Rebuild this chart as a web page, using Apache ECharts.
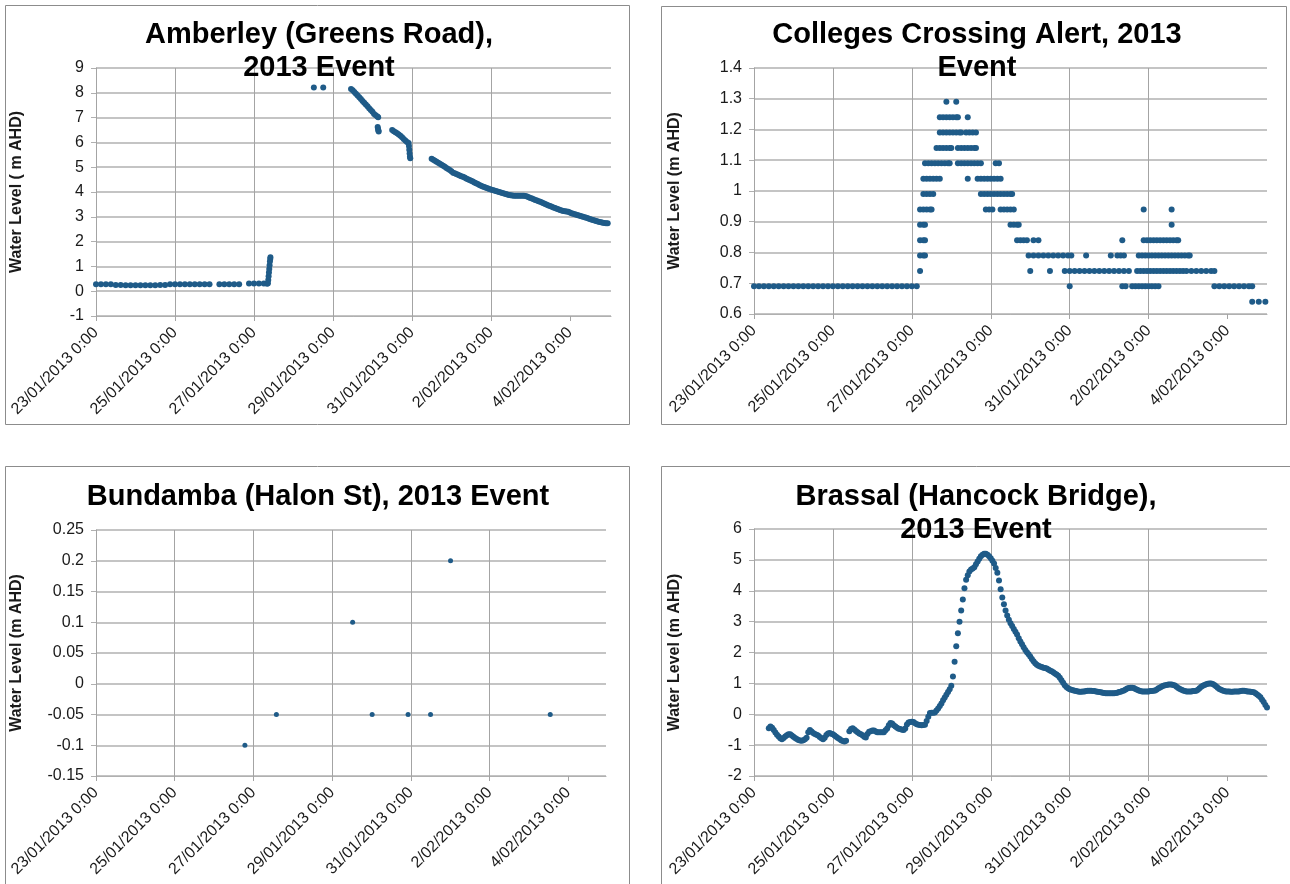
<!DOCTYPE html>
<html>
<head>
<meta charset="utf-8">
<title>Water Levels, 2013 Event</title>
<script src="https://cdn.jsdelivr.net/npm/echarts@6/dist/echarts.min.js"></script>
<style>
  html, body { margin: 0; padding: 0; background: #ffffff; }
  #chart { width: 1290px; height: 884px; }
</style>
</head>
<body>
<div id="chart"></div>
<script>
// Time is in hours after 23/01/2013 0:00; levels are in m AHD.
const xTickHours = [0, 48, 96, 144, 192, 240, 288];
const xTickLabels = ['23/01/2013 0:00', '25/01/2013 0:00', '27/01/2013 0:00', '29/01/2013 0:00',
  '31/01/2013 0:00', '2/02/2013 0:00', '4/02/2013 0:00'];

// Amberley (Greens Road)
const amberleyEarly = [[0,0.28],[3,0.28],[6,0.28],[9,0.28],[12,0.25],[15,0.25],[18,0.24],[21,0.24],
  [24,0.24],[27,0.24],[30,0.24],[33,0.24],[36,0.24],[39,0.25],[42,0.25],[45,0.28],[48,0.28],[51,0.28],
  [54,0.28],[57,0.28],[60,0.28],[63,0.28],[66,0.28],[69,0.28],[75,0.28],[78,0.28],[81,0.28],[84,0.28],
  [87,0.28],[93,0.31],[96,0.31],[99,0.31],[102,0.31],[104,0.30]];
const amberleyRise = [[104.5,0.32],[104.7,0.45],[104.9,0.6],[105.1,0.75],[105.3,0.9],[105.5,1.05],
  [105.7,1.2],[105.9,1.3],[106,1.37]];
const amberleyPeak = [[132.4,8.21],[138.1,8.21]];
const amberleyRecessionA = [[155,8.15],[156,8.1],[157,8.03],[158,7.96],[159,7.89],[160,7.82],[161,7.75],
  [162,7.67],[163,7.6],[164,7.53],[165,7.46],[166,7.38],[167,7.31],[168,7.24],[169,7.15],[170,7.09],
  [171,7.04],[171.5,7.01],[171.2,6.62],[171.4,6.55],[171.6,6.48],[171.8,6.44]];
const amberleyRecessionB = [[180,6.5],[181,6.45],[182,6.41],[183,6.37],[184,6.32],[185,6.27],[186,6.21],
  [187,6.14],[188,6.08],[189,6.02],[190,5.98],[190.2,5.85],[190.4,5.7],[190.6,5.55],[190.8,5.42],[191,5.36]];
const amberleyHourlyStart = 204;
const amberleyHourlyLevels = [
  5.34,5.30,5.26,5.22,5.18,5.14,5.10,5.06,5.02,4.97,
  4.93,4.89,4.84,4.78,4.76,4.73,4.70,4.67,4.64,4.61,
  4.58,4.54,4.51,4.48,4.45,4.42,4.38,4.35,4.32,4.28,
  4.25,4.22,4.20,4.17,4.15,4.12,4.10,4.08,4.06,4.04,
  4.02,4.00,3.98,3.96,3.94,3.92,3.90,3.88,3.87,3.86,
  3.85,3.85,3.85,3.85,3.85,3.85,3.85,3.84,3.82,3.79,
  3.76,3.74,3.71,3.68,3.66,3.63,3.61,3.58,3.55,3.52,
  3.49,3.46,3.44,3.41,3.38,3.35,3.32,3.30,3.27,3.25,
  3.23,3.22,3.21,3.20,3.17,3.14,3.12,3.10,3.08,3.06,
  3.04,3.02,3.00,2.98,2.96,2.94,2.91,2.89,2.87,2.85,
  2.83,2.81,2.79,2.78,2.76,2.75,2.74,2.74];

// Colleges Crossing Alert: the gauge reports in 0.05 m steps, so hours are grouped by level
const colleges129 = [117, 123];
const colleges124 = [113,115,117,119,121,123,124,130];
const colleges119 = [113,115,117,119,121,123,125,126,129,131,133,135];
const colleges114 = [111,113,115,117,119,120,124,126,128,130,132,134,135];
const colleges109 = [104,106,108,110,112,114,116,118,119,124,126,128,130,132,134,136,138,147,149];
const colleges104 = [103,105,107,109,111,113,130,136,138,140,142,144,146,148,150];
const colleges099 = [103,105,107,109,138,140,142,144,146,148,150,152,154,156,157];
const colleges094 = [101,103,105,107,108,141,143,145,150,152,154,156,158,237,254];
const colleges089 = [101,103,104,156,158,160,161,254];
const colleges084 = [101,103,104,160,162,164,166,170,173,224,237,239,241,243,245,247,249,251,253,255,257,258];
const colleges079 = [101,103,104,167,170,173,176,179,182,185,188,191,193,202,217,221,223,225,234,236,238,
  240,242,244,246,248,250,252,254,256,258,260,262,264,265];
const colleges074 = [101,168,180,189,192,195,198,201,204,207,210,213,216,219,222,225,228,233,235,237,239,
  241,243,245,247,249,251,253,255,257,259,261,263,266,269,272,275,278,280];
const colleges069 = [0,3,6,9,12,15,18,21,24,27,30,33,36,39,42,45,48,51,54,57,60,63,66,69,72,75,78,81,84,
  87,90,93,96,99,192,224,226,230,232,234,236,238,240,242,244,246,280,283,286,289,292,295,298,301,303];
const colleges064 = [303, 307, 311];
const collegesRows = [[1.29, colleges129], [1.24, colleges124], [1.19, colleges119], [1.14, colleges114],
  [1.09, colleges109], [1.04, colleges104], [0.99, colleges099], [0.94, colleges094], [0.89, colleges089],
  [0.84, colleges084], [0.79, colleges079], [0.74, colleges074], [0.69, colleges069], [0.64, colleges064]];

// Bundamba (Halon St)
const bundambaHours = [90.8, 110, 156.5, 168.4, 190.3, 204, 216.2, 277];
const bundambaLevels = [-0.1, -0.05, 0.1, -0.05, -0.05, -0.05, 0.2, -0.05];

// Brassal (Hancock Bridge), hourly readings; null marks a missing reading
const brassalStart = 9;
const brassalLevels = [
  -0.45,-0.40,-0.44,-0.51,-0.59,-0.66,-0.72,-0.78,-0.81,-0.77,-0.72,-0.68,-0.65,-0.65,-0.69,
  -0.73,-0.77,-0.80,-0.83,-0.85,-0.86,-0.84,-0.81,-0.76,-0.58,-0.51,-0.56,-0.61,-0.64,-0.66,-0.69,-0.74,-0.78,-0.81,-0.76,-0.67,-0.62,-0.61,-0.63,
  -0.65,-0.69,-0.73,-0.77,-0.80,-0.84,-0.87,-0.88,-0.86,null,-0.55,-0.48,-0.45,-0.49,-0.54,-0.58,-0.62,-0.65,-0.68,-0.73,-0.75,-0.64,-0.57,-0.55,
  -0.53,-0.53,-0.56,-0.58,-0.58,-0.58,-0.58,-0.58,-0.52,-0.46,-0.36,-0.28,-0.30,-0.36,-0.40,-0.44,-0.47,-0.48,-0.50,-0.51,-0.46,-0.33,-0.27,-0.25,
  -0.24,-0.25,-0.29,-0.32,-0.34,-0.35,-0.36,-0.35,-0.34,-0.22,-0.08,0.04,0.05,0.05,0.06,0.12,0.19,0.27,0.35,0.45,0.54,0.63,0.72,0.81,
  0.92,1.22,1.70,2.20,2.62,3.00,3.36,3.72,4.08,4.36,4.50,4.62,4.69,4.72,4.76,4.86,4.95,5.04,5.12,5.17,5.20,5.20,5.17,5.12,
  5.05,4.97,4.88,4.74,4.58,4.33,4.05,3.78,3.56,3.36,3.20,3.06,2.95,2.86,2.76,2.67,2.58,2.46,2.36,2.27,2.17,2.08,2.01,1.94,
  1.87,1.79,1.72,1.65,1.60,1.57,1.55,1.53,1.51,1.50,1.48,1.45,1.42,1.39,1.36,1.32,1.29,1.25,1.18,1.10,1.02,0.94,0.88,0.84,
  0.81,0.79,0.78,0.76,0.75,0.74,0.73,0.73,0.74,0.74,0.75,0.76,0.76,0.76,0.75,0.75,0.74,0.73,0.72,0.71,0.70,0.69,0.68,0.68,
  0.68,0.68,0.68,0.68,0.69,0.70,0.72,0.73,0.75,0.77,0.80,0.83,0.85,0.86,0.86,0.85,0.82,0.79,0.77,0.75,0.74,0.74,0.74,0.74,
  0.74,0.75,0.75,0.76,0.77,0.80,0.84,0.87,0.90,0.92,0.94,0.95,0.96,0.96,0.96,0.95,0.93,0.89,0.85,0.82,0.79,0.77,0.75,0.74,
  0.74,0.74,0.74,0.75,0.75,0.76,0.79,0.84,0.89,0.92,0.95,0.97,0.99,1.00,1.00,0.98,0.95,0.91,0.86,0.82,0.79,0.77,0.75,0.74,
  0.74,0.74,0.73,0.73,0.74,0.74,0.74,0.74,0.75,0.76,0.76,0.75,0.74,0.74,0.73,0.72,0.71,0.68,0.64,0.60,0.55,0.47,0.40,0.30,0.22];

// ---- assemble point lists ----
const amberleyData = [].concat(amberleyEarly, amberleyRise, amberleyPeak, amberleyRecessionA,
  amberleyRecessionB, amberleyHourlyLevels.map((v, i) => [amberleyHourlyStart + i, v]));
const collegesData = [];
collegesRows.forEach(([level, hours]) => hours.forEach(h => collegesData.push([h, level])));
const bundambaData = bundambaHours.map((h, i) => [h, bundambaLevels[i]]);
const brassalData = [];
brassalLevels.forEach((v, i) => { if (v !== null) brassalData.push([brassalStart + i, v]); });

// ---- layout & styling ----
const FONT = '"Liberation Sans", Arial, Helvetica, sans-serif';
const DOT = '#1f5b88';
const HLINE = '#b0b0b0';
const VLINE = '#a4a4a4';
const TEXT = '#1a1a1a';

const panels = [
  { title: 'Amberley (Greens Road),\n2013 Event', tx: 319, ty: 18, yName: 'Water Level ( m AHD)',
    grid: { left: 96, top: 68, width: 515, height: 248 }, xMax: 313,
    y: { min: -1, max: 9, interval: 1 }, data: amberleyData, size: 6 },
  { title: 'Colleges Crossing Alert, 2013\nEvent', tx: 977, ty: 18, yName: 'Water Level (m AHD)',
    grid: { left: 754, top: 68, width: 513, height: 246 }, xMax: 312,
    y: { min: 0.6, max: 1.4, interval: 0.1 }, data: collegesData, size: 6 },
  { title: 'Bundamba (Halon St), 2013 Event', tx: 318, ty: 480, yName: 'Water Level (m AHD)',
    grid: { left: 96, top: 530, width: 510, height: 246 }, xMax: 311,
    y: { min: -0.15, max: 0.25, interval: 0.05 }, data: bundambaData, size: 5 },
  { title: 'Brassal (Hancock Bridge),\n2013 Event', tx: 976, ty: 480, yName: 'Water Level (m AHD)',
    grid: { left: 754, top: 529, width: 513, height: 247 }, xMax: 312,
    y: { min: -2, max: 6, interval: 1 }, data: brassalData, size: 6 }
];

const frames = [
  { x: 5.5, y: 5.5, width: 624, height: 419 },
  { x: 661.5, y: 6.5, width: 625, height: 418 },
  { x: 5.5, y: 466.5, width: 624, height: 430 },
  { x: 661.5, y: 466.5, width: 650, height: 430 }
];

const option = {
  backgroundColor: '#ffffff',
  animation: false,
  textStyle: { fontFamily: FONT },
  title: panels.map(p => ({
    text: p.title, left: p.tx, top: p.ty, textAlign: 'center', padding: 0,
    textStyle: { fontFamily: FONT, fontSize: 29, fontWeight: 'bold', color: '#000', lineHeight: 33 }
  })),
  graphic: frames.map(f => ({
    type: 'rect', silent: true, z: -10,
    shape: f, style: { fill: 'none', stroke: '#8c8c8c', lineWidth: 1 }
  })),
  grid: panels.map(p => Object.assign({ outerBoundsMode: 'none', containLabel: false }, p.grid)),
  xAxis: panels.map((p, i) => ({
    type: 'value', gridIndex: i, min: 0, max: p.xMax, interval: 48,
    axisLine: { show: true, onZero: false, lineStyle: { color: HLINE, width: 1 } },
    axisTick: { show: true, inside: false, length: 5, customValues: xTickHours, lineStyle: { color: VLINE } },
    splitLine: { show: true, showMinLine: true, showMaxLine: false, lineStyle: { color: VLINE, width: 1 } },
    axisLabel: {
      customValues: xTickHours, rotate: 45, margin: 14, color: TEXT, fontSize: 16, fontFamily: FONT,
      formatter: v => { const k = xTickHours.indexOf(v); return k >= 0 ? xTickLabels[k] : ''; }
    }
  })),
  yAxis: panels.map((p, i) => ({
    type: 'value', gridIndex: i, min: p.y.min, max: p.y.max, interval: p.y.interval,
    name: p.yName, nameLocation: 'middle', nameGap: 71, nameRotate: 90,
    nameTextStyle: { fontFamily: FONT, fontSize: 16, fontWeight: 'bold', color: TEXT },
    axisLine: { show: true, lineStyle: { color: VLINE, width: 1 } },
    axisTick: { show: true, inside: false, length: 5, lineStyle: { color: HLINE } },
    splitLine: { show: true, lineStyle: { color: HLINE, width: 1.5 } },
    axisLabel: { margin: 12, color: TEXT, fontSize: 16, fontFamily: FONT }
  })),
  series: panels.map((p, i) => ({
    type: 'scatter', xAxisIndex: i, yAxisIndex: i, data: p.data,
    symbol: 'circle', symbolSize: p.size,
    itemStyle: { color: DOT, opacity: 1 },
    emphasis: { disabled: true }, silent: true
  }))
};

const chart = echarts.init(document.getElementById('chart'), null, { renderer: 'canvas', width: 1290, height: 884 });
chart.setOption(option);
</script>
</body>
</html>
